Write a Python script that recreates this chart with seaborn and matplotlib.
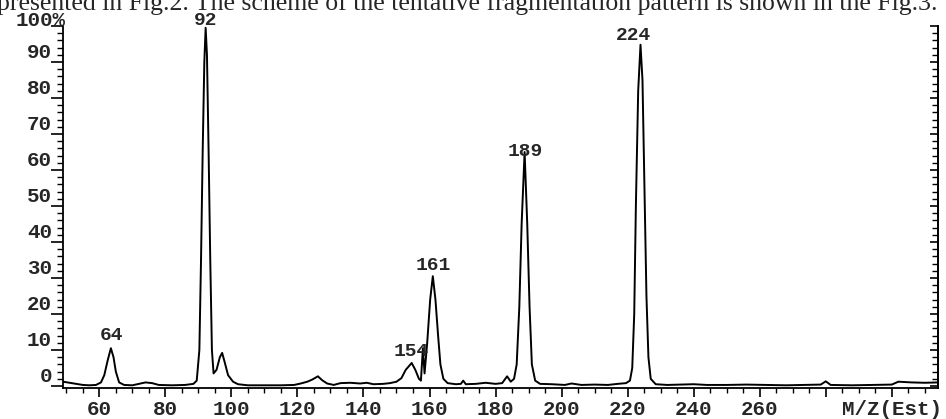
"""
Mass spectrum (EI) - relative abundance vs m/z
"""

import numpy as np
import pandas as pd
import seaborn as sns
import matplotlib.pyplot as plt

# traced spectrum points (m/z, relative intensity %)
mz = [49.0, 51, 53, 55, 57, 59, 60.5, 61.5, 62.5, 63.5, 64.3, 65.0, 66.0, 67.5,
      70, 72, 74, 76, 78, 82, 86, 88.5, 89.5, 90.3, 90.8, 91.3, 91.8, 92.2,
      92.6, 93.1, 93.6, 94.1, 94.6, 95.5, 96.5, 97.2, 98.0, 99.0, 100.5, 102,
      105, 110, 115, 119, 121, 123, 124.5, 126.2, 127.5, 129, 131, 133, 136,
      139, 141, 143, 146, 148, 150, 151.5, 152.8, 154.6, 155.7, 156.8, 157.4,
      158.0, 158.5, 159.3, 160.2, 161.0, 161.8, 162.6, 163.3, 164.2, 165.5,
      168, 169.5, 170.2, 171, 174, 177, 180, 182, 183.5, 184.6, 185.6, 186.4,
      187.2, 187.9, 188.8, 189.6, 190.3, 191.0, 192, 193.5, 197, 201, 203, 206,
      210, 214, 217, 219.5, 220.7, 221.4, 222.0, 222.5, 223.2, 223.9, 224.5,
      225.1, 225.7, 226.3, 227.0, 228.5, 232, 236, 240, 244, 250, 256, 262,
      268, 274, 278.5, 280, 281.5, 288, 295, 300, 302, 306, 310, 314]
intensity = [1.2, 0.9, 0.6, 0.3, 0.2, 0.3, 1.0, 3.0, 7.0, 10.5, 8.0, 4.0, 1.0, 0.3,
             0.2, 0.6, 1.0, 0.8, 0.3, 0.2, 0.3, 0.6, 1.5, 10, 35, 65, 90, 99.5,
             92, 65, 35, 10, 3.5, 4.5, 8, 9.2, 6.5, 3, 1.2, 0.5,
             0.2, 0.2, 0.2, 0.3, 0.7, 1.2, 1.8, 2.7, 1.6, 0.7, 0.3, 0.8, 0.9,
             0.7, 0.9, 0.5, 0.6, 0.8, 1.2, 2.2, 4.5, 6.4, 4.5, 2.0, 1.5,
             10.5, 3.5, 12, 24, 30.5, 24, 14, 6, 2, 0.8,
             0.5, 0.6, 1.5, 0.5, 0.6, 0.9, 0.6, 0.8, 2.7, 1.2, 2.0, 6,
             22, 45, 65, 45, 22, 6, 1.5, 0.6, 0.5, 0.3, 0.7, 0.3,
             0.4, 0.3, 0.6, 0.8, 1.5, 5, 20, 50, 82, 94.8, 85,
             55, 25, 8, 2, 0.5, 0.3, 0.4, 0.5, 0.3, 0.3, 0.4, 0.3,
             0.2, 0.3, 0.4, 1.3, 0.3, 0.2, 0.3, 0.4, 1.2, 1.0, 0.9, 1.0]

# peak annotations
label_text = ["64", "92", "154", "161", "189", "224"]
label_x = [63.8, 92.3, 154.6, 161.1, 189.0, 221.7]
label_y = [13.9, 101.4, 9.5, 33.4, 65.2, 97.5]

xtick_values = [60, 80, 100, 120, 140, 160, 180, 200, 220, 240, 260, 280, 300]
xtick_labels = ["60", "80", "100", "120", "140", "160", "180", "200", "220",
                "240", "260", "", "M/Z(Est)"]
ytick_values = [0, 10, 20, 30, 40, 50, 60, 70, 80, 90, 100]
ytick_labels = ["0", "10", "20", "30", "40", "50", "60", "70", "80", "90", ""]

header = ("presented in Fig.2. The scheme of the tentative fragmentation "
          "pattern is shown in the Fig.3.")

df = pd.DataFrame({"mz": mz, "intensity": intensity})

sns.set_theme(style="white")
plt.rcParams["font.family"] = ["Liberation Mono", "DejaVu Sans"]
plt.rcParams["font.weight"] = "bold"

W, H = 946, 419
fig = plt.figure(figsize=(W / 100, H / 100), dpi=100)
ax = fig.add_axes([63 / W, 31 / H, 875 / W, 362 / H])

sns.lineplot(data=df, x="mz", y="intensity", ax=ax, color="black",
             linewidth=1.4, estimator=None, sort=False)

ax.set_xlim(49, 314)
ax.set_ylim(-0.55, 100)
ax.set_xlabel("")
ax.set_ylabel("")

# spines
for side in ["left", "bottom", "right"]:
    ax.spines[side].set_color("black")
    ax.spines[side].set_linewidth(1.3)
ax.spines["top"].set_visible(False)

# x ticks
ax.set_xticks(xtick_values)
ax.set_xticklabels(xtick_labels, fontsize=15)
ax.set_xticks(np.arange(50, 315, 5), minor=True)
ax.tick_params(axis="x", which="major", direction="out", length=6.5,
               width=1.2, color="black", pad=2, bottom=True)
ax.tick_params(axis="x", which="minor", direction="out", length=3.5,
               width=1.0, color="black", bottom=True)

# y ticks (left, outward)
ax.set_yticks(ytick_values)
ax.set_yticklabels(ytick_labels, fontsize=15)
ax.set_yticks(np.arange(0, 101, 2), minor=True)
ax.tick_params(axis="y", which="major", direction="out", length=9,
               width=1.2, color="black", pad=-1, left=True)
ax.tick_params(axis="y", which="minor", direction="out", length=4,
               width=1.0, color="black", left=True)
for lab in ax.get_yticklabels():
    lab.set_verticalalignment("bottom")

# right axis ticks pointing inward
ax2 = ax.twinx()
ax2.set_ylim(ax.get_ylim())
ax2.set_yticks(ytick_values)
ax2.set_yticks(np.arange(0, 101, 2), minor=True)
ax2.set_yticklabels([])
ax2.tick_params(axis="y", which="major", direction="in", length=6,
                width=1.2, color="black", right=True)
ax2.tick_params(axis="y", which="minor", direction="in", length=4,
                width=1.0, color="black", right=True)
for side in ["left", "top", "bottom"]:
    ax2.spines[side].set_visible(False)
ax2.spines["right"].set_linewidth(1.3)
ax2.spines["right"].set_color("black")

# "100%" label at top of the y axis
ax.text(0.003, 98.8, "100%", transform=ax.get_yaxis_transform(),
        ha="right", va="bottom", fontsize=15, clip_on=False)

# peak labels
for t, x, y in zip(label_text, label_x, label_y):
    ax.text(x, y, t, ha="center", va="center", fontsize=14, clip_on=False)

# cropped caption line from the page above the plot
fig.text(-3 / W, 1 - 10 / H, header, ha="left", va="baseline",
         fontsize=18.5, family="Liberation Serif", fontweight="normal")

fig.savefig("out.png", dpi=100)
